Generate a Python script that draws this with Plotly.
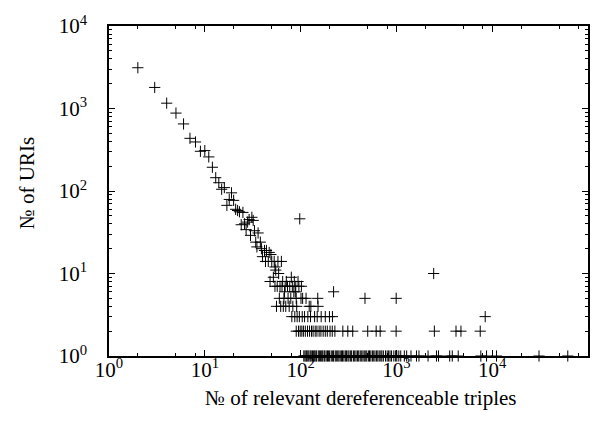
import plotly.graph_objects as go

# ---- data (x: № of triples, y: № of URIs) ----
head_x = [2, 3, 4, 5, 6, 7, 8, 9, 10, 11, 12, 13, 14, 15, 16, 17, 18, 19, 20, 21,
          22, 23, 24, 25, 26, 27, 28, 29, 30, 31, 32, 33, 34, 35, 36, 38, 39, 40,
          42, 43, 44, 46, 47, 49, 50, 53, 54, 55, 58, 59, 63]
head_y = [3120, 1800, 1160, 880, 650, 435, 393, 303, 309, 259, 194, 145, 126, 105,
          110, 67, 79, 95, 77, 60, 58, 56, 39, 55, 40, 34, 42, 45, 29, 48, 44, 33,
          24, 21, 31, 24, 20, 16, 19, 14, 19, 14, 18, 17, 14, 14, 12, 11, 14, 10, 14]

extra_x = [98, 2450, 52, 80, 48, 65, 71, 86, 94]
extra_y = [46, 10, 9, 9, 8, 8, 8, 8, 8]

row7_x = [54, 57, 61, 64, 69, 73, 77, 82, 89, 96, 102]
row6_x = [68, 85, 88, 221]
row5_x = [60, 67, 74, 79, 90, 101, 105, 114, 151, 470, 995]
row4_x = [56, 62, 66, 70, 76, 83, 91, 123, 128, 152]
row3_x = [81, 87, 92, 97, 104, 110, 119, 127, 140, 149, 164, 181, 200, 215, 8450]
row2_x = [90, 95, 99, 103, 107, 112, 118, 124, 130, 135, 142, 148, 156, 163, 172,
          181, 190, 203, 214, 228, 276, 311, 350, 502, 615, 677, 993, 2490, 4190,
          4720, 7500]
row1_x = [108, 111, 114, 116, 119, 122, 126, 129, 133, 137, 139, 144, 147, 153, 157,
          161, 166, 170, 176, 179, 185, 191, 196, 201, 209, 216, 221, 230, 236, 244,
          251, 259, 268, 274, 283, 293, 301, 312, 320, 333, 341, 356, 367, 379, 392,
          404, 419, 430, 447, 461, 473, 490, 510, 524, 541, 562, 580, 598, 621, 640,
          662, 688, 705, 731, 770, 801, 829, 858, 890, 940, 982, 1010, 1060, 1110,
          1210, 1280, 1420, 1620, 1720, 2140, 2620, 2750, 3600, 3830, 4420, 7610,
          8730, 11100, 30800, 61500]

x_major = [1, 10, 100, 1000, 10000, 100000]
x_major_text = ["10<sup>0</sup>", "10<sup>1</sup>", "10<sup>2</sup>",
                "10<sup>3</sup>", "10<sup>4</sup>", "10<sup>5</sup>"]
y_major = [1, 10, 100, 1000, 10000]
y_major_text = ["10<sup>0</sup>", "10<sup>1</sup>", "10<sup>2</sup>",
                "10<sup>3</sup>", "10<sup>4</sup>"]
x_minor_mult = [2, 5, 8]
y_minor_mult = [2, 3, 4, 5, 6, 7, 8, 9]

x_title = "№ of relevant dereferenceable triples"
y_title = "№ of URIs"

# ---- assemble ----
xs, ys = [], []
xs += head_x; ys += head_y
xs += extra_x; ys += extra_y
for rx, rv in [(row7_x, 7), (row6_x, 6), (row5_x, 5), (row4_x, 4),
               (row3_x, 3), (row2_x, 2), (row1_x, 1)]:
    xs += rx
    ys += [rv] * len(rx)

x_minor = [m * d for d in x_major[:-1] for m in x_minor_mult]
y_minor = [m * d for d in y_major[:-1] for m in y_minor_mult]

FONT = "Liberation Serif"

fig = go.Figure(go.Scatter(
    x=xs, y=ys, mode="markers", cliponaxis=False,
    marker=dict(symbol="cross-thin", size=8, color="black",
                line=dict(color="black", width=1)),
    showlegend=False,
))

axis_common = dict(
    type="log", showline=True, linecolor="black", linewidth=1.5,
    mirror="allticks", ticks="inside", ticklen=6, tickwidth=1,
    tickcolor="black", showgrid=False, zeroline=False, tickmode="array",
    tickfont=dict(family=FONT, size=21, color="black"),
)

fig.update_xaxes(**axis_common, range=[0, 5], tickvals=x_major,
                 ticktext=x_major_text, ticklabelstandoff=-6,
                 minor=dict(ticks="inside", ticklen=3, tickwidth=1,
                            tickcolor="black", tickmode="array",
                            tickvals=x_minor, showgrid=False))
fig.update_yaxes(**axis_common, range=[0, 4], tickvals=y_major,
                 ticktext=y_major_text, ticklabelstandoff=16,
                 minor=dict(ticks="inside", ticklen=3, tickwidth=1,
                            tickcolor="black", tickmode="array",
                            tickvals=y_minor, showgrid=False))

L, R, T, B = 109, 13, 24, 73
W, H = 602, 429
pw, ph = W - L - R, H - T - B

fig.add_annotation(text=x_title, xref="paper", yref="paper",
                   x=(362 - L) / pw, y=(H - B - 398) / ph,
                   xanchor="center", yanchor="middle", showarrow=False,
                   font=dict(family=FONT, size=21, color="black"))
fig.add_annotation(text=y_title, xref="paper", yref="paper",
                   x=(27 - L) / pw, y=(H - B - 182) / ph, textangle=-90,
                   xanchor="center", yanchor="middle", showarrow=False,
                   font=dict(family=FONT, size=21, color="black"))

fig.update_layout(width=W, height=H, margin=dict(l=L, r=R, t=T, b=B),
                  paper_bgcolor="white", plot_bgcolor="white",
                  font=dict(family=FONT, color="black"))

fig.write_html("out.html")
